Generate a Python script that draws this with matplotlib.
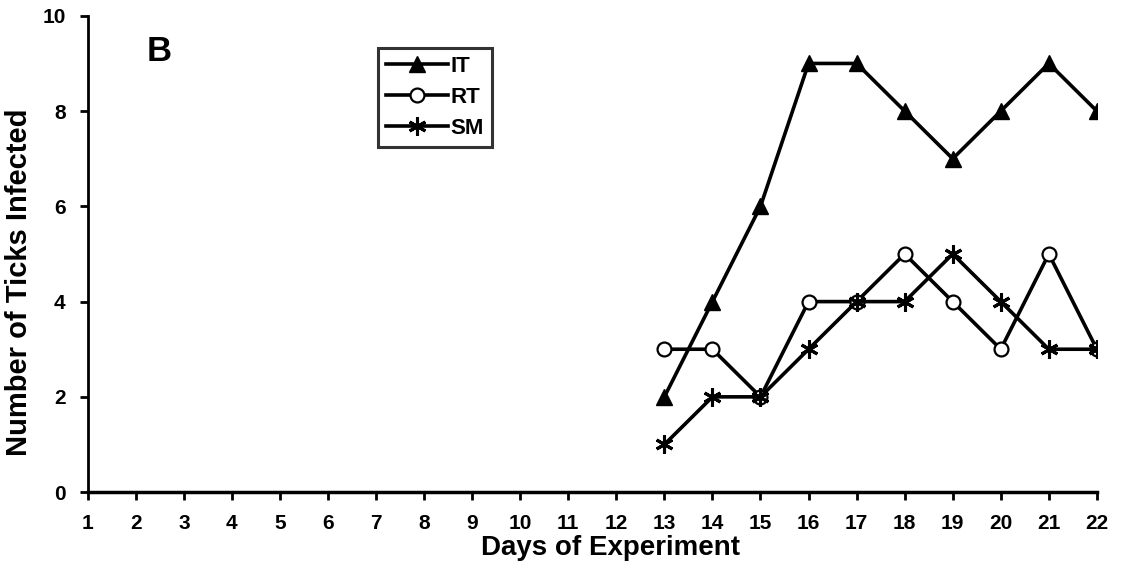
import numpy as np
import matplotlib
matplotlib.use('Agg')
import matplotlib.pyplot as plt

plt.rcParams['font.family'] = ['Liberation Sans', 'DejaVu Sans']
plt.rcParams['font.weight'] = 'bold'

days = list(range(1, 23))
obs_days = [13, 14, 15, 16, 17, 18, 19, 20, 21, 22]
it_vals = [2, 4, 6, 9, 9, 8, 7, 8, 9, 8]
rt_vals = [3, 3, 2, 4, 4, 5, 4, 3, 5, 3]
sm_vals = [1, 2, 2, 3, 4, 4, 5, 4, 3, 3]

fig = plt.figure(figsize=(11.25, 5.65), dpi=100)
ax = fig.add_axes([0.078, 0.129, 0.897, 0.843])

ax.plot(obs_days, it_vals, color='black', lw=2.6, marker='^', ms=11, label='IT')
ax.plot(obs_days, rt_vals, color='black', lw=2.6, marker='o', ms=10,
        mfc='white', mew=1.6, label='RT')
ax.plot(obs_days, sm_vals, color='black', lw=2.6, marker=(6, 2, 0), ms=13,
        mew=2.2, label='SM')

ax.set_xlim(1, 22)
ax.set_ylim(0, 10)
ax.set_xticks(days)
ax.set_yticks([0, 2, 4, 6, 8, 10])
ax.tick_params(labelsize=15, width=2, length=6, direction='out', pad=10)
for lab in ax.get_xticklabels() + ax.get_yticklabels():
    lab.set_fontweight('bold')
ax.spines['top'].set_visible(False)
ax.spines['right'].set_visible(False)
ax.spines['left'].set_linewidth(2)
ax.spines['bottom'].set_linewidth(2.5)

ax.set_xlabel('Days of Experiment', fontsize=20, fontweight='bold', va='center')
ax.xaxis.set_label_coords(0.518, -0.118)
ax.set_ylabel('Number of Ticks Infected', fontsize=21, fontweight='bold', va='center')
ax.yaxis.set_label_coords(-0.068, 0.44)

ax.text(0.058, 0.96, 'B', transform=ax.transAxes, fontsize=25, fontweight='bold',
        va='top')

leg = ax.legend(loc='upper left', bbox_to_anchor=(0.277, 0.955), frameon=True,
                fancybox=False, edgecolor='black', fontsize=16, handlelength=2.8,
                handletextpad=0.1, borderpad=0.35, labelspacing=0.45)
leg.get_frame().set_linewidth(2.2)

fig.savefig('out.png', dpi=100)
